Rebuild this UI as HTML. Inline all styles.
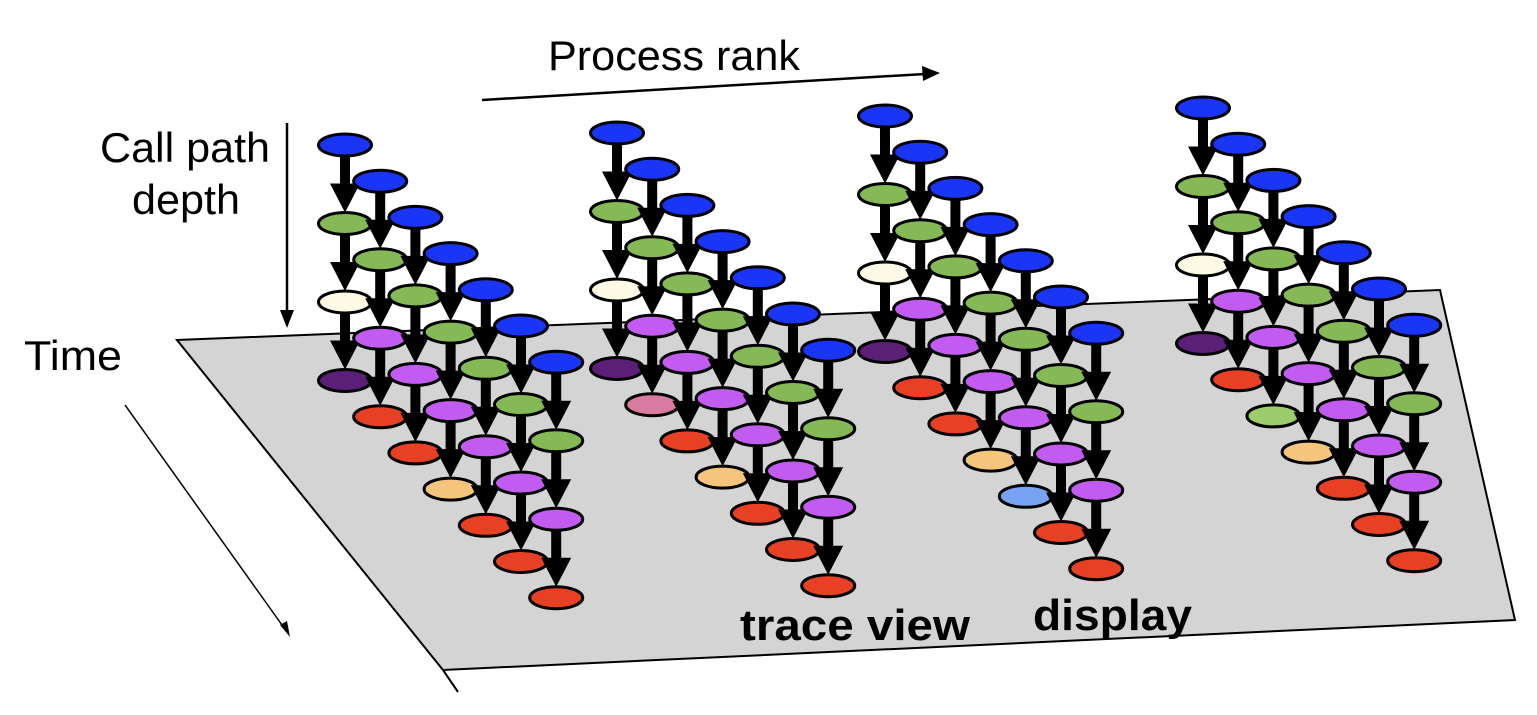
<!DOCTYPE html>
<html><head><meta charset="utf-8"><style>
html,body{margin:0;padding:0;background:#fff;width:1537px;height:715px;overflow:hidden}
svg{position:absolute;left:0;top:0}
text{font-family:"Liberation Sans",sans-serif}
</style></head><body>
<svg id="s" width="1537" height="715" viewBox="0 0 1537 715" xmlns="http://www.w3.org/2000/svg">
<polygon points="177,340 1440,290 1515,620 443,670" fill="#d4d4d4" stroke="#000" stroke-width="2"/>
<line x1="443" y1="670" x2="458" y2="692" stroke="#000" stroke-width="2"/>
<text x="548" y="70" font-size="42" textLength="252" lengthAdjust="spacingAndGlyphs">Process rank</text>
<line x1="482" y1="100" x2="925" y2="74" stroke="#000" stroke-width="2.5"/>
<polygon points="940,73 922,66 923,81" fill="#000"/>
<text x="100" y="162" font-size="42" textLength="170" lengthAdjust="spacingAndGlyphs">Call path</text>
<text x="132" y="214" font-size="42" textLength="108" lengthAdjust="spacingAndGlyphs">depth</text>
<line x1="287" y1="123" x2="287" y2="312" stroke="#000" stroke-width="2.5"/>
<polygon points="287,328 280,310 294,310" fill="#000"/>
<text x="24" y="370" font-size="42" textLength="98" lengthAdjust="spacingAndGlyphs">Time</text>
<line x1="125" y1="405" x2="287" y2="632" stroke="#000" stroke-width="1.5"/>
<polygon points="290,637 280,625 287,621" fill="#000"/>
<g id="g"></g>
<text x="740" y="640" font-size="44" font-weight="bold" textLength="230" lengthAdjust="spacingAndGlyphs">trace view</text>
<text x="1033" y="630" font-size="44" font-weight="bold" textLength="159" lengthAdjust="spacingAndGlyphs">display</text>
</svg>
<script>
var C={B:"#1a35f5",G:"#85b955",C:"#fdfbe6",D:"#5c1f78",P:"#c25cf0",R:"#e84024",O:"#f5c47d",K:"#d97aa0",L:"#78a3f5",H:"#9ccd6a"};
var groups=[[345,145,"DRRORRR"],[617,133,"DKRORRR"],[885,116,"DRROLRR"],[1203,108,"DRHORRR"]];
var s="";
groups.forEach(function(g){
 for(var j=0;j<7;j++){
  var x=g[0]+j*35.2,y=g[1]+j*36.2;
  var cols=["B","G",j==0?"C":"P",g[2][j]];
  var a="";
  for(var k=0;k<3;k++){
   var y0=y+k*78.5+11,y1=y+(k+1)*78.5-11;
   a+='<rect x="'+(x-5)+'" y="'+y0+'" width="10" height="'+(y1-y0-27)+'" fill="#000"/>';
   a+='<polygon points="'+(x-15)+','+(y1-29)+' '+(x+15)+','+(y1-29)+' '+x+','+y1+'" fill="#000"/>';
  }
  s+=a;
  for(var k=0;k<4;k++){
   s+='<ellipse cx="'+x+'" cy="'+(y+k*78.5)+'" rx="26.5" ry="11" fill="'+C[cols[k]]+'" stroke="#000" stroke-width="3"/>';
  }
 }
});
document.getElementById("g").innerHTML=s;
</script>
</body></html>
